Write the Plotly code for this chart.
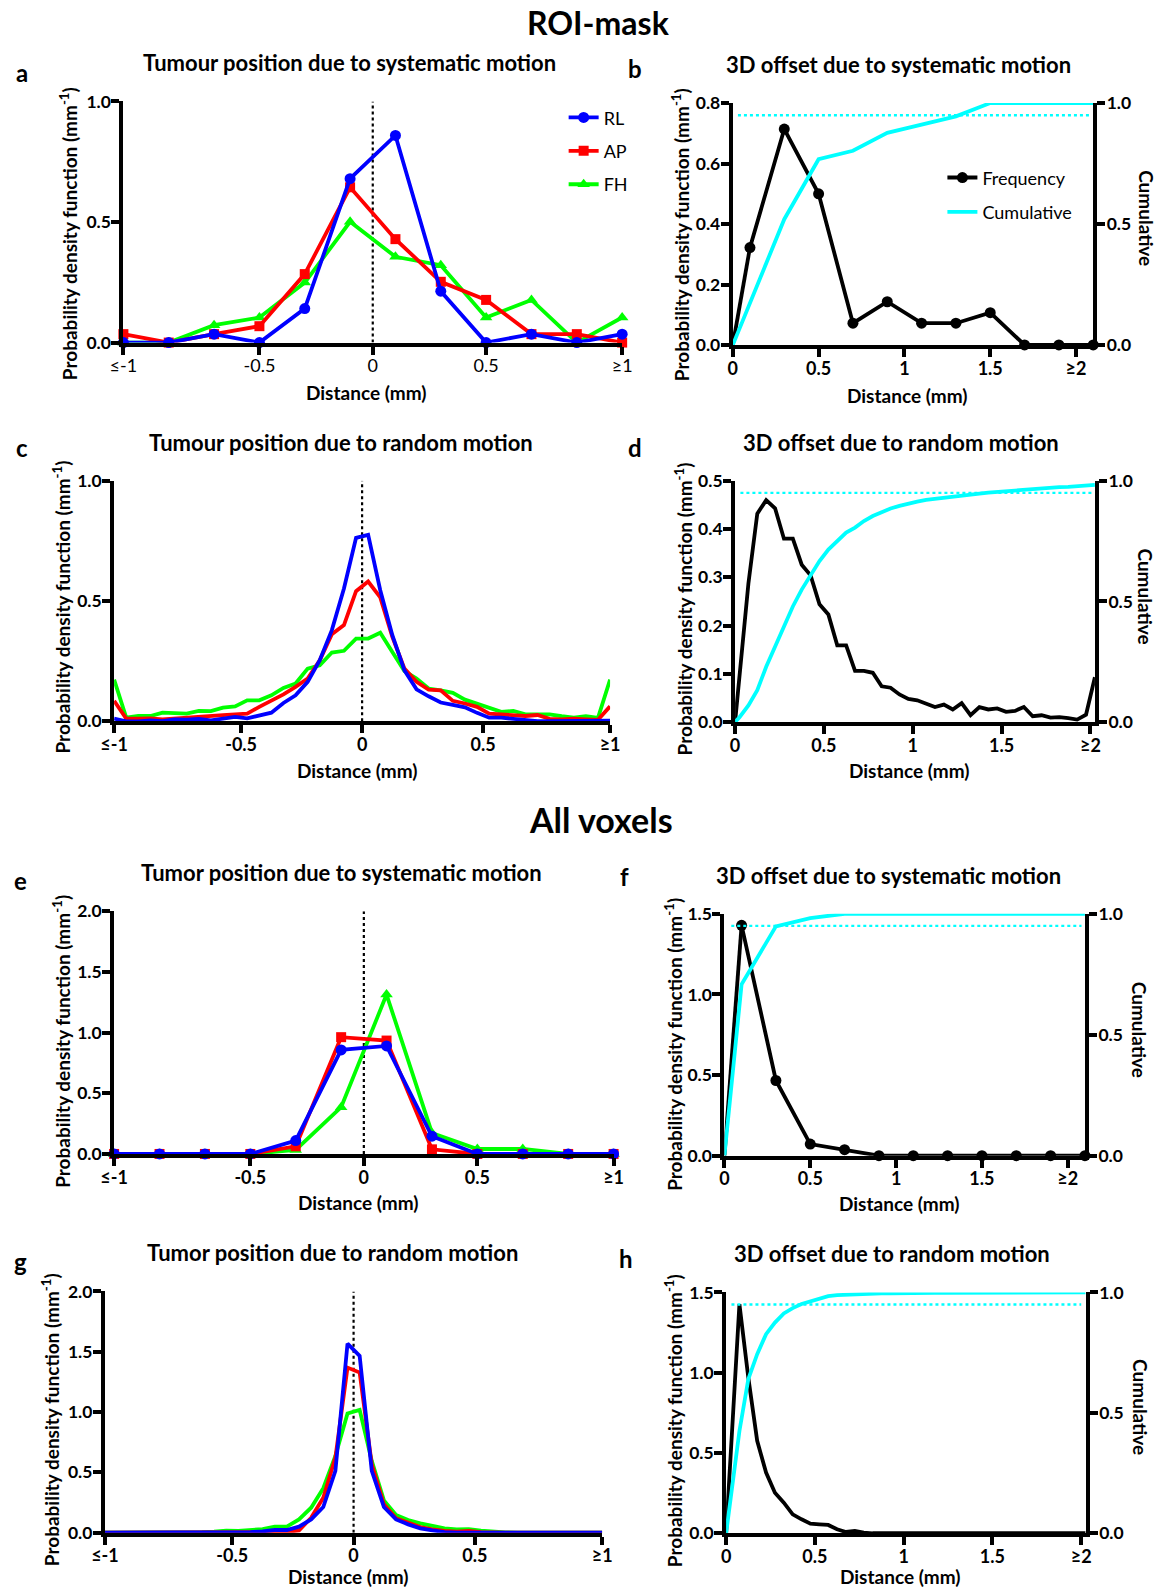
import plotly.graph_objects as go

W, H = 1165, 1594
FONT = "Lato"
# measured placement of the figure in the photographed page: page = S*fig + C
SX, CX = 0.9826, 11.56
SY, CY = 0.986, 11.3

# ---------------- data ----------------
# Panel a: ROI-mask, systematic motion (bin centres, mm)
A_X = [-1.1, -0.9, -0.7, -0.5, -0.3, -0.1, 0.1, 0.3, 0.5, 0.7, 0.9, 1.1]
A_RL = [0, 0, 0.035, 0, 0.141, 0.68, 0.859, 0.213, 0, 0.035, 0, 0.035]
A_AP = [0.035, 0, 0.035, 0.068, 0.284, 0.644, 0.429, 0.252, 0.177, 0.035, 0.035, 0]
A_FH = [0, 0, 0.072, 0.104, 0.249, 0.501, 0.356, 0.321, 0.104, 0.177, 0, 0.104]

# Panel b: ROI-mask, 3D offset systematic
B_X = [0, 0.1, 0.3, 0.5, 0.7, 0.9, 1.1, 1.3, 1.5, 1.7, 1.9, 2.1]
B_FREQ = [0, 0.322, 0.714, 0.5, 0.072, 0.143, 0.072, 0.072, 0.107, 0, 0, 0]
B_CUM_X = [0, 0.3, 0.5, 0.7, 0.9, 1.1, 1.3, 1.5, 1.7, 1.9, 2.1]
B_CUM = [0, 0.52, 0.768, 0.803, 0.877, 0.912, 0.945, 1.0, 1.0, 1.0, 1.0]

# Panel c: ROI-mask, random motion
C_X = [-1.025, -0.975, -0.925, -0.875, -0.825, -0.775, -0.725, -0.675, -0.625, -0.575,
       -0.525, -0.475, -0.425, -0.375, -0.325, -0.275, -0.225, -0.175, -0.125, -0.075,
       -0.025, 0.025, 0.075, 0.125, 0.175, 0.225, 0.275, 0.325, 0.375, 0.425,
       0.475, 0.525, 0.575, 0.625, 0.675, 0.725, 0.775, 0.825, 0.875, 0.925,
       0.975, 1.025]
C_RL = [0.011, 0, 0, 0.004, 0.001, 0.008, 0.007, 0.01, 0.004, 0.01,
        0.018, 0.012, 0.025, 0.036, 0.076, 0.108, 0.164, 0.254, 0.379, 0.552,
        0.763, 0.775, 0.545, 0.358, 0.212, 0.133, 0.104, 0.078, 0.068, 0.058,
        0.035, 0.015, 0.015, 0.011, 0.007, 0.001, 0.001, 0.001, 0.001, 0.001,
        0.001, 0.003]
C_AP = [0.085, 0.011, 0.011, 0.012, 0.008, 0.012, 0.015, 0.021, 0.025, 0.026,
        0.029, 0.032, 0.06, 0.085, 0.112, 0.143, 0.178, 0.254, 0.362, 0.40,
        0.541, 0.581, 0.515, 0.351, 0.219, 0.164, 0.132, 0.129, 0.085, 0.074,
        0.06, 0.032, 0.028, 0.025, 0.022, 0.026, 0.01, 0.008, 0.011, 0.008,
        0.006, 0.062]
C_FH = [0.173, 0.015, 0.022, 0.022, 0.036, 0.035, 0.032, 0.043, 0.042, 0.057,
        0.062, 0.087, 0.087, 0.108, 0.139, 0.157, 0.219, 0.233, 0.286, 0.293,
        0.344, 0.344, 0.368, 0.288, 0.209, 0.178, 0.136, 0.129, 0.118, 0.09,
        0.074, 0.057, 0.039, 0.043, 0.029, 0.029, 0.029, 0.021, 0.015, 0.021,
        0.014, 0.173]

# Panel d: ROI-mask, 3D offset random
D_X = [0, 0.025, 0.075, 0.125, 0.175, 0.225, 0.275, 0.325, 0.375, 0.425,
       0.475, 0.525, 0.575, 0.625, 0.675, 0.725, 0.775, 0.825, 0.875, 0.925,
       0.975, 1.025, 1.075, 1.125, 1.175, 1.225, 1.275, 1.325, 1.375, 1.425,
       1.475, 1.525, 1.575, 1.625, 1.675, 1.725, 1.775, 1.825, 1.875, 1.925,
       1.975, 2.025]
D_FREQ = [0, 0.1, 0.287, 0.432, 0.46, 0.443, 0.38, 0.38, 0.326, 0.304,
          0.244, 0.223, 0.159, 0.159, 0.106, 0.106, 0.102, 0.074, 0.071, 0.057,
          0.048, 0.045, 0.038, 0.031, 0.036, 0.026, 0.039, 0.014, 0.031, 0.026,
          0.028, 0.021, 0.023, 0.031, 0.012, 0.014, 0.009, 0.01, 0.008, 0.005,
          0.015, 0.093]
D_CUM = [0, 0.02, 0.069, 0.132, 0.229, 0.313, 0.396, 0.479, 0.549, 0.611,
         0.667, 0.715, 0.75, 0.785, 0.806, 0.833, 0.854, 0.871, 0.885, 0.896,
         0.907, 0.914, 0.921, 0.926, 0.931, 0.936, 0.94, 0.944, 0.947, 0.951,
         0.954, 0.958, 0.9625, 0.966, 0.969, 0.971, 0.972, 0.974, 0.975, 0.977,
         0.979, 0.983]

# Panel e: all voxels, systematic motion
E_X = [-1.1, -0.9, -0.7, -0.5, -0.3, -0.1, 0.1, 0.3, 0.5, 0.7, 0.9, 1.1]
E_RL = [0, 0, 0, 0, 0.11, 0.857, 0.89, 0.146, 0, 0, 0, 0]
E_AP = [0, 0, 0, 0, 0.063, 0.962, 0.934, 0.038, 0, 0, 0, 0]
E_FH = [0, 0, 0, 0, 0.033, 0.385, 1.313, 0.173, 0.041, 0.041, 0, 0]

# Panel f: all voxels, 3D offset systematic
F_X = [0, 0.1, 0.3, 0.5, 0.7, 0.9, 1.1, 1.3, 1.5, 1.7, 1.9, 2.1]
F_FREQ = [0, 1.428, 0.466, 0.072, 0.037, 0, 0, 0, 0, 0, 0, 0]
F_CUM = [0, 0.708, 0.948, 0.982, 1.0, 1.0, 1.0, 1.0, 1.0, 1.0, 1.0, 1.0]

# Panel g: all voxels, random motion
G_X = C_X
G_RL = [0, 0, 0, 0, 0, 0, 0, 0, 0, 0,
        0, 0, 0.005, 0.011, 0.022, 0.022, 0.05, 0.11, 0.213, 0.512,
        1.568, 1.466, 0.512, 0.213, 0.11, 0.069, 0.036, 0.019, 0.005, 0,
        0, 0, 0, 0, 0, 0, 0, 0, 0, 0,
        0, 0]
G_AP = [0, 0, 0, 0, 0, 0, 0, 0, 0, 0,
        0, 0, 0, 0, 0.005, 0.005, 0.019, 0.124, 0.29, 0.622,
        1.369, 1.328, 0.567, 0.235, 0.119, 0.083, 0.047, 0.028, 0.014, 0.008,
        0.014, 0.005, 0, 0, 0, 0, 0, 0, 0, 0,
        0, 0]
G_FH = [0, 0, 0, 0, 0, 0, 0, 0, 0.005, 0.008,
        0.017, 0.014, 0.019, 0.03, 0.05, 0.05, 0.11, 0.207, 0.368, 0.636,
        0.988, 1.018, 0.595, 0.268, 0.147, 0.105, 0.077, 0.055, 0.036, 0.028,
        0.03, 0.017, 0.008, 0.003, 0, 0, 0, 0, 0, 0,
        0, 0]

# Panel h: all voxels, 3D offset random
H_X = D_X
H_FREQ = [0, 0.48, 1.427, 0.97, 0.576, 0.378, 0.253, 0.191, 0.118, 0.087,
          0.06, 0.056, 0.052, 0.025, 0.008, 0.015, 0.004, 0, 0, 0,
          0, 0, 0, 0, 0, 0, 0, 0, 0, 0,
          0, 0, 0, 0, 0, 0, 0, 0, 0, 0,
          0, 0]
H_CUM = [0, 0.15, 0.425, 0.64, 0.744, 0.827, 0.875, 0.913, 0.935, 0.952,
         0.963, 0.974, 0.985, 0.989, 0.991, 0.993, 0.994, 0.995, 0.996, 0.996,
         0.997, 0.997, 0.997, 0.998, 0.998, 0.998, 0.998, 0.999, 0.999, 0.999,
         0.999, 0.999, 0.999, 1.0, 1.0, 1.0, 1.0, 1.0, 1.0, 1.0,
         1.0, 1.0]

CUM_REF = 0.95  # dotted reference level on the cumulative axis

SIGNED_TICKS_A = [-1.1, -0.5, 0, 0.5, 1.1]
SIGNED_TICKS_C = [-1.025, -0.5, 0, 0.5, 1.025]
SIGNED_TEXT = ["≤-1", "-0.5", "0", "0.5", "≥1"]
OFFSET_TICKS = [0, 0.5, 1, 1.5, 2]
OFFSET_TEXT = ["0", "0.5", "1", "1.5", "≥2"]
Y_TICKS = {
    1: [0, 0.5, 1.0], 2: [0, 0.2, 0.4, 0.6, 0.8], 3: [0, 0.5, 1.0],
    4: [0, 0.1, 0.2, 0.3, 0.4, 0.5], 5: [0, 0.5, 1.0, 1.5, 2.0],
    6: [0, 0.5, 1.0, 1.5], 7: [0, 0.5, 1.0, 1.5, 2.0], 8: [0, 0.5, 1.0, 1.5],
}
CUM_TICKS = [0, 0.5, 1.0]

BLUE, RED, GREEN, CYAN = "#0000FF", "#FF0000", "#00FF00", "#00FFFF"
LW = 3.8

# ---------------- layout helpers (target page pixels -> paper fractions) ----------------
def px(x):
    return ((x - CX) / SX) / W

def py(y):
    return 1 - ((y - CY) / SY) / H

def dom_x(x0, x1):
    return [px(x0), px(x1)]

def dom_y(ytop, ybot):
    return [py(ybot), py(ytop)]

def bold(lst):
    return ["<b>%s</b>" % s for s in lst]

def axis_common(size=18, standoff=0):
    return dict(showline=True, linecolor="black", linewidth=4, ticks="outside",
                ticklen=8, tickwidth=4, tickcolor="black", showgrid=False,
                zeroline=False, fixedrange=True, ticklabelstandoff=standoff,
                tickfont=dict(family=FONT, size=size, color="black"))

layout = dict(width=W, height=H, margin=dict(l=0, r=0, t=0, b=0),
              paper_bgcolor="white", plot_bgcolor="white",
              font=dict(family=FONT, color="black"))

# panel geometry (page pixels): x-left, x-right, y-top, y-bottom
geo = {
    1: (121.3, 621.7, 101.7, 342.6),
    2: (732.7, 1094.3, 103.3, 345),
    3: (112.0, 609.6, 480.7, 721),
    4: (735, 1096, 480.7, 721.7),
    5: (112.0, 613.1, 910.7, 1153.3),
    6: (724.3, 1086, 913.3, 1155),
    7: (102.8, 601.7, 1290.7, 1531.7),
    8: (726, 1086.7, 1291.7, 1532.3),
}
xr = {1: [-1.1, 1.1], 2: [0, 2.1], 3: [-1.025, 1.025], 4: [0, 2.025],
      5: [-1.1, 1.1], 6: [0, 2.1], 7: [-1.025, 1.025], 8: [0, 2.025]}
xticks = {1: SIGNED_TICKS_A, 3: SIGNED_TICKS_C, 5: SIGNED_TICKS_A, 7: SIGNED_TICKS_C}

for i in range(1, 9):
    x0, x1, yt, yb = geo[i]
    xa = axis_common(18, -4)
    xa.update(domain=dom_x(x0, x1), range=xr[i], anchor="y%d" % i, tickmode="array")
    if i in xticks:
        xa.update(tickvals=xticks[i],
                  ticktext=SIGNED_TEXT if i == 1 else bold(SIGNED_TEXT))
    else:
        xa.update(tickvals=OFFSET_TICKS, ticktext=bold(OFFSET_TEXT))
    ya = axis_common(17.5, -3)
    yt_vals = Y_TICKS[i]
    ya.update(domain=dom_y(yt, yb), range=[0, yt_vals[-1]], anchor="x%d" % i,
              tickmode="array", tickvals=yt_vals,
              ticktext=bold(["%.1f" % v for v in yt_vals]))
    layout["xaxis%d" % i] = xa
    layout["yaxis%d" % i] = ya

# secondary (cumulative) axes
for j, i in zip([9, 10, 11, 12], [2, 4, 6, 8]):
    ya = axis_common(17.5, -2)
    ya.update(overlaying="y%d" % i, anchor="x%d" % i, side="right",
              range=[0, 1], tickmode="array", tickvals=CUM_TICKS,
              ticktext=bold(["%.1f" % v for v in CUM_TICKS]))
    layout["yaxis%d" % j] = ya

fig = go.Figure(layout=layout)

def xy(i):
    return "x%d" % i, "y%d" % i

def add_line(i, x, y, color, yaxis=None, dash=None, width=LW, **kw):
    xa, ya = xy(i)
    fig.add_trace(go.Scatter(x=x, y=y, xaxis=xa, yaxis=yaxis or ya, mode="lines",
                             line=dict(color=color, width=width, dash=dash),
                             cliponaxis=False,
                             showlegend=kw.pop("showlegend", False),
                             hoverinfo="skip", **kw))

def add_lm(i, x, y, color, symbol, size, **kw):
    xa, ya = xy(i)
    fig.add_trace(go.Scatter(x=x, y=y, xaxis=xa, yaxis=ya, mode="lines+markers",
                             line=dict(color=color, width=LW),
                             marker=dict(color=color, symbol=symbol, size=size),
                             cliponaxis=False, showlegend=kw.pop("showlegend", False),
                             hoverinfo="skip", **kw))

def zero_line(i):
    add_line(i, [0, 0], [0, Y_TICKS[i][-1]], "black", dash="dot", width=2.2)

# panel a
zero_line(1)
add_lm(1, A_X, A_FH, GREEN, "triangle-up", 11, name="FH", showlegend=True,
       legendrank=3, legendgroup="FH")
add_lm(1, A_X, A_AP, RED, "square", 10, name="AP", showlegend=True,
       legendrank=2, legendgroup="AP")
add_lm(1, A_X, A_RL, BLUE, "circle", 11, name="RL", showlegend=True,
       legendrank=1, legendgroup="RL")

# panel c
zero_line(3)
add_line(3, C_X, C_FH, GREEN)
add_line(3, C_X, C_AP, RED)
add_line(3, C_X, C_RL, BLUE)

# panel e
zero_line(5)
add_lm(5, E_X, E_FH, GREEN, "triangle-up", 11)
add_lm(5, E_X, E_AP, RED, "square", 10)
add_lm(5, E_X, E_RL, BLUE, "circle", 11)

# panel g
zero_line(7)
add_line(7, G_X, G_FH, GREEN)
add_line(7, G_X, G_AP, RED)
add_line(7, G_X, G_RL, BLUE)

# panel b
add_line(2, [0.03, 2.08], [CUM_REF, CUM_REF], CYAN, yaxis="y9", dash="dot", width=2.4)
add_line(2, B_CUM_X, B_CUM, CYAN, yaxis="y9", name="Cumulative", showlegend=True,
         legend="legend2", legendrank=2, legendgroup="cum")
add_line(2, B_X[:2], B_FREQ[:2], "black")
add_lm(2, B_X[1:], B_FREQ[1:], "black", "circle", 11, name="Frequency", showlegend=True,
       legend="legend2", legendrank=1, legendgroup="freq")

# panel d
add_line(4, [0.03, 2.01], [CUM_REF, CUM_REF], CYAN, yaxis="y10", dash="dot", width=2.4)
add_line(4, D_X, D_CUM, CYAN, yaxis="y10")
add_line(4, D_X, D_FREQ, "black")

# panel f
add_line(6, [0.04, 2.08], [CUM_REF, CUM_REF], CYAN, yaxis="y11", dash="dot", width=2.4)
add_line(6, F_X, F_CUM, CYAN, yaxis="y11")
add_line(6, F_X[:2], F_FREQ[:2], "black")
add_lm(6, F_X[1:], F_FREQ[1:], "black", "circle", 11)

# panel h
add_line(8, [0.03, 2.0], [CUM_REF, CUM_REF], CYAN, yaxis="y12", dash="dot", width=2.4)
add_line(8, H_X, H_CUM, CYAN, yaxis="y12")
add_line(8, H_X, H_FREQ, "black")

fig.update_layout(
    legend=dict(x=px(563), y=py(99.5), xanchor="left", yanchor="top",
                font=dict(family=FONT, size=18, color="black"),
                bgcolor="rgba(0,0,0,0)", tracegroupgap=7),
    legend2=dict(x=px(943), y=py(159.5), xanchor="left", yanchor="top",
                 font=dict(family=FONT, size=18, color="black"),
                 bgcolor="rgba(0,0,0,0)", tracegroupgap=8),
)

# ---------------- text ----------------
ann = []

def text(x, y, s, size, angle=0, isbold=True):
    ann.append(dict(x=px(x), y=py(y), xref="paper", yref="paper", showarrow=False,
                    text=("<b>%s</b>" % s) if isbold else s, textangle=angle,
                    xanchor="center", yanchor="middle",
                    font=dict(family=FONT, size=size, color="black")))

text(598, 23, "ROI-mask", 32)
text(600, 819, "All voxels", 34)

titles = [
    (348, 63, "Tumour position due to systematic motion"),
    (899, 65, "3D offset due to systematic motion"),
    (340, 442, "Tumour position due to random motion"),
    (901, 442, "3D offset due to random motion"),
    (340, 872, "Tumor position due to systematic motion"),
    (889, 875, "3D offset due to systematic motion"),
    (331, 1252, "Tumor position due to random motion"),
    (892, 1253, "3D offset due to random motion"),
]
for x, y, s in titles:
    text(x, y, s, 22)

for x, y, s in [(20, 73, "a"), (635, 69, "b"), (20, 447, "c"), (635, 447, "d"),
                (18, 880, "e"), (624, 876, "f"), (18, 1261, "g"), (626, 1258, "h")]:
    text(x, y, s, 24)

YLAB = "Probability density function (mm<sup>-1</sup>)"
for x, y in [(67, 234), (681, 235), (59, 607), (683, 609),
             (59, 1041), (673, 1044), (49, 1419), (674, 1420)]:
    text(x, y, YLAB, 19, angle=-90)

for x, y in [(1147, 218), (1147, 596), (1141, 1029), (1141, 1406)]:
    text(x, y, "Cumulative", 19, angle=90)

for x, y in [(365, 392), (908, 395), (356, 770), (910, 770),
             (357, 1202), (900, 1203), (347, 1575), (901, 1575)]:
    text(x, y, "Distance (mm)", 19)

fig.update_layout(annotations=ann)
fig.write_html("out.html")
